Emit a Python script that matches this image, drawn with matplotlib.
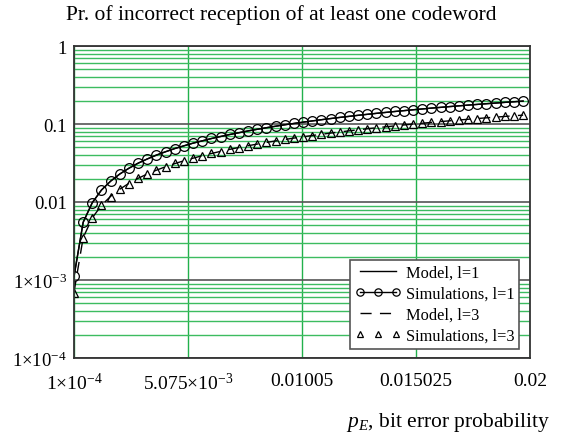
import numpy as np
import matplotlib
matplotlib.use("Agg")
import matplotlib.pyplot as plt
from matplotlib.ticker import LogLocator, NullFormatter

plt.rcParams['font.family'] = 'Liberation Serif'
plt.rcParams['mathtext.fontset'] = 'custom'
plt.rcParams['mathtext.rm'] = 'Liberation Serif'
plt.rcParams['mathtext.it'] = 'Liberation Serif:italic'

# bit error probability
p_e = [0.0001, 0.0005, 0.0009, 0.0013, 0.0017, 0.0021, 0.0025, 0.0029, 0.0033, 0.0037,
       0.0041, 0.0045, 0.0049, 0.0053, 0.0057, 0.0061, 0.0065, 0.0069, 0.0073, 0.0077,
       0.0081, 0.0085, 0.0089, 0.0093, 0.0097, 0.0101, 0.0105, 0.0109, 0.0113, 0.0117,
       0.0121, 0.0125, 0.0129, 0.0133, 0.0137, 0.0141, 0.0145, 0.0149, 0.0153, 0.0157,
       0.0161, 0.0165, 0.0169, 0.0173, 0.0177, 0.0181, 0.0185, 0.0189, 0.0193, 0.0197]

# l=1
model_l1 = [0.0011, 0.00549, 0.00986, 0.0142, 0.01854, 0.02286, 0.02716, 0.03144, 0.03571, 0.03996,
            0.04419, 0.0484, 0.0526, 0.0568, 0.0609, 0.0651, 0.0692, 0.0733, 0.0774, 0.0815,
            0.0856, 0.0896, 0.0937, 0.0977, 0.1017, 0.1056, 0.1096, 0.1135, 0.1175, 0.1214,
            0.1253, 0.1292, 0.1331, 0.1369, 0.1408, 0.1446, 0.1484, 0.1522, 0.156, 0.1598,
            0.1635, 0.1672, 0.171, 0.1747, 0.1784, 0.182, 0.1857, 0.1893, 0.1929, 0.1966]
sim_l1 = [0.00112, 0.0055, 0.0098, 0.0143, 0.0185, 0.0229, 0.0271, 0.0315, 0.0356, 0.0400,
          0.0441, 0.0485, 0.0525, 0.0569, 0.0608, 0.0652, 0.0691, 0.0734, 0.0773, 0.0816,
          0.0855, 0.0897, 0.0936, 0.0978, 0.1016, 0.1057, 0.1095, 0.1136, 0.1174, 0.1215,
          0.1252, 0.1293, 0.1330, 0.1370, 0.1407, 0.1447, 0.1483, 0.1523, 0.1559, 0.1599,
          0.1634, 0.1673, 0.1709, 0.1748, 0.1783, 0.1821, 0.1856, 0.1894, 0.1928, 0.1967]

# l=3
model_l3 = [0.0007, 0.00349, 0.00628, 0.00906, 0.01184, 0.01461, 0.01737, 0.02013, 0.02287, 0.02561,
            0.02835, 0.03108, 0.0338, 0.0365, 0.0392, 0.0419, 0.0446, 0.0473, 0.05, 0.0527,
            0.0553, 0.058, 0.0607, 0.0633, 0.066, 0.0686, 0.0712, 0.0738, 0.0765, 0.0791,
            0.0817, 0.0843, 0.0869, 0.0895, 0.092, 0.0946, 0.0972, 0.0997, 0.1023, 0.1049,
            0.1074, 0.1099, 0.1125, 0.115, 0.1175, 0.12, 0.1225, 0.125, 0.1275, 0.13]
sim_l3 = [0.00068, 0.0035, 0.0062, 0.0091, 0.0117, 0.0147, 0.0172, 0.0202, 0.0226, 0.0257,
          0.0281, 0.0312, 0.0335, 0.0366, 0.0389, 0.0420, 0.0443, 0.0474, 0.0496, 0.0528,
          0.0549, 0.0581, 0.0603, 0.0634, 0.0656, 0.0687, 0.0708, 0.0739, 0.0760, 0.0792,
          0.0812, 0.0844, 0.0864, 0.0896, 0.0915, 0.0947, 0.0967, 0.0998, 0.1018, 0.1050,
          0.1069, 0.1100, 0.1120, 0.1151, 0.1170, 0.1201, 0.1220, 0.1251, 0.1270, 0.1301]

x_ticks = [0.0001, 0.005075, 0.01005, 0.015025, 0.02]
x_labels = [r'$1{\times}10^{-4}$', r'$5.075{\times}10^{-3}$', '0.01005', '0.015025', '0.02']
y_ticks = [1e-4, 1e-3, 0.01, 0.1, 1]
y_labels = [r'$1{\times}10^{-4}$', r'$1{\times}10^{-3}$', '0.01', '0.1', '1']

fig = plt.figure(figsize=(5.64, 4.39), dpi=100)
ax = fig.add_axes([74/564, 1 - 359/439, (530-74)/564, (359-47)/439])

ax.set_yscale('log')
ax.set_xlim(0.0001, 0.02)
ax.set_ylim(1e-4, 1)

ax.set_xticks(x_ticks)
ax.set_xticklabels(x_labels, fontsize=14)
ax.set_yticks(y_ticks)
ax.set_yticklabels(y_labels, fontsize=13.5)
ax.yaxis.set_minor_locator(LogLocator(base=10, subs=np.arange(2, 10)))
ax.yaxis.set_minor_formatter(NullFormatter())
ax.tick_params(which='both', length=0)
ax.tick_params(axis='y', pad=5)
ax.tick_params(axis='x', pad=10)

ax.grid(True, axis='x', which='major', color='#22b14c', lw=1)
ax.grid(True, axis='y', which='major', color='#555555', lw=1.2)
ax.grid(True, axis='y', which='minor', color='#3cbc60', lw=1)
ax.set_axisbelow(True)

for s in ax.spines.values():
    s.set_color('#333333')
    s.set_linewidth(1.3)

ax.plot(p_e, model_l1, '-', color='black', lw=1, label='Model, l=1')
ax.plot(p_e, sim_l1, '-', color='black', lw=1, marker='o', ms=7, mfc='none', mec='black',
        mew=0.9, label='Simulations, l=1')
ax.plot(p_e, model_l3, color='black', lw=1, dashes=(8, 6), label='Model, l=3')
ax.plot(p_e, sim_l3, 'none', marker='^', ms=6, mfc='none', mec='black', mew=0.9,
        label='Simulations, l=3')

leg = ax.legend(loc='lower right', bbox_to_anchor=(0.976, 0.03), fontsize=11.8, fancybox=False,
                framealpha=1, edgecolor='#555555', handlelength=2.8, handletextpad=0.3,
                borderpad=0.3, labelspacing=0.3, borderaxespad=0, numpoints=3,
                markerscale=0.75)
leg.get_frame().set_linewidth(1.2)

fig.text(281/564, 1 - 15/439, 'Pr. of incorrect reception of at least one codeword',
         ha='center', va='center', fontsize=15.5)
fig.text(550/564, 1 - 423/439, r'$p_E$, bit error probability', ha='right', va='center',
         fontsize=15.5)

fig.savefig('out.png', dpi=100)
